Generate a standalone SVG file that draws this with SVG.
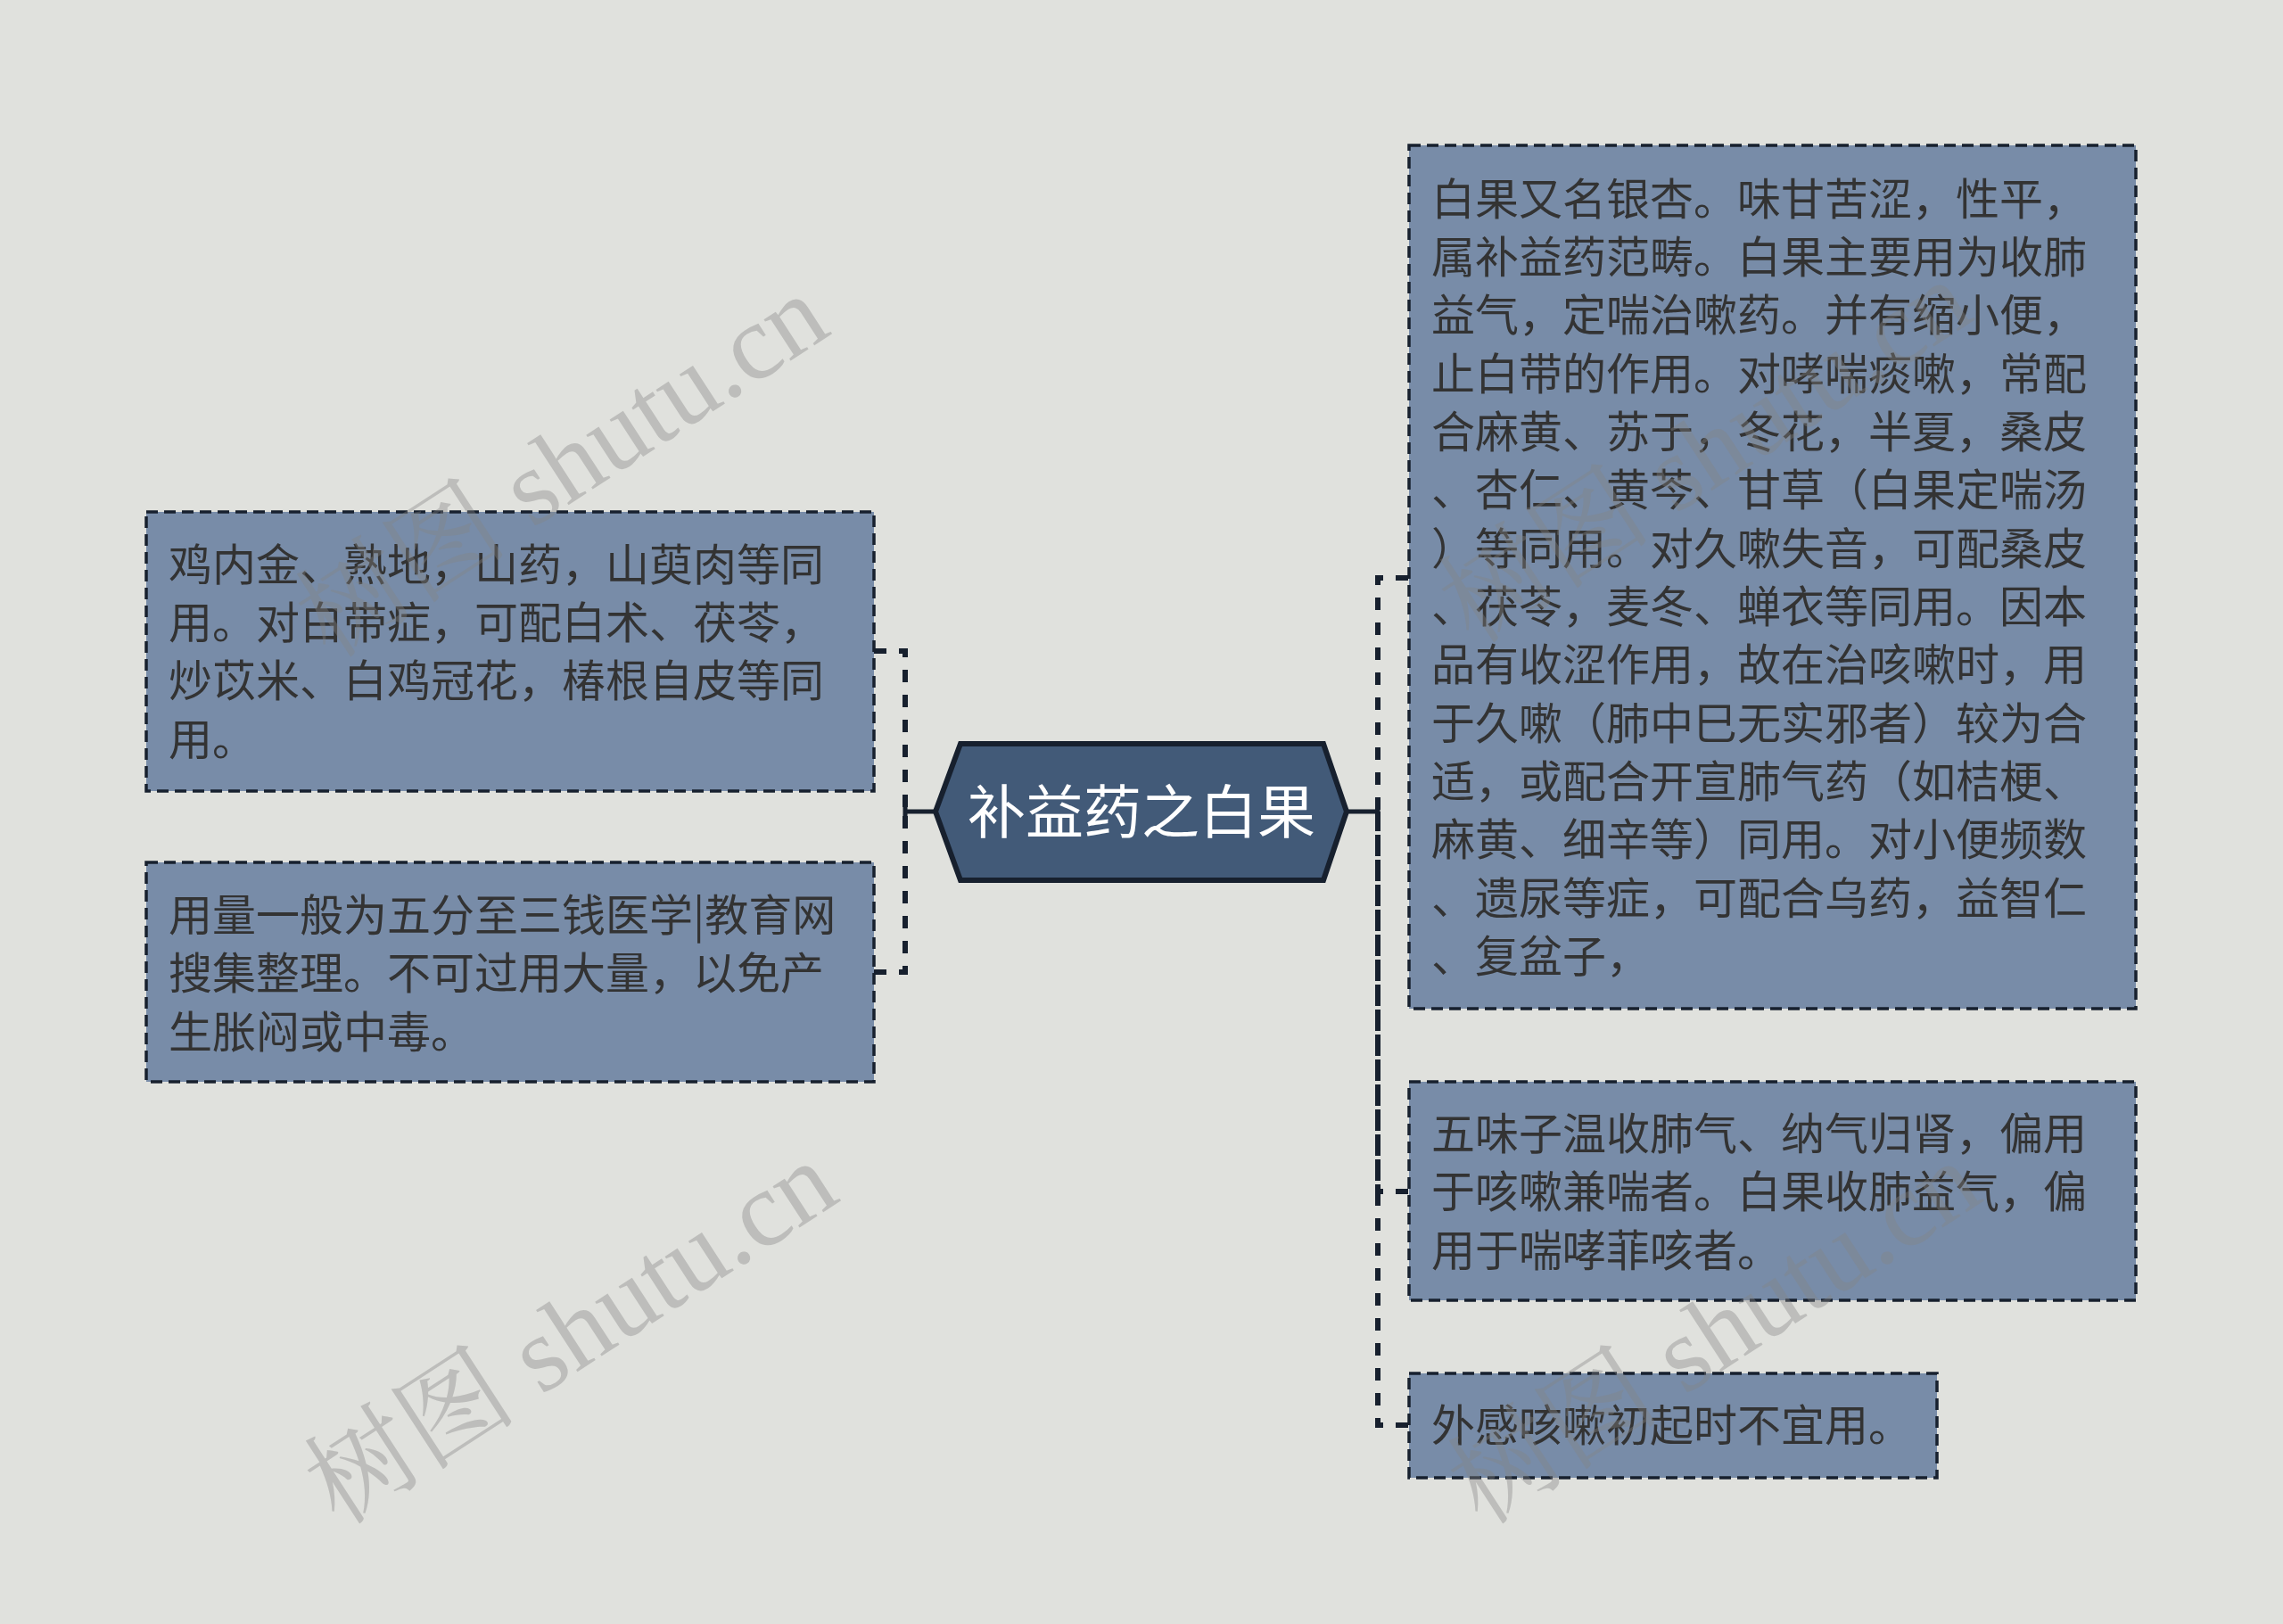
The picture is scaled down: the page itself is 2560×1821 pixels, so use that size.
<svg xmlns="http://www.w3.org/2000/svg" width="2560" height="1821" viewBox="0 0 2560 1821">
<style>
.bg{fill:#e0e1dd}
.box{fill:#788ca8;stroke:#17202e;stroke-width:3.5;stroke-dasharray:13 7}
.t{font-family:"Noto Sans CJK SC","Noto Sans",sans-serif;font-size:49px;fill:#333333}
.ct{font-family:"Noto Sans CJK SC","Noto Sans",sans-serif;font-size:65px;fill:#ffffff}
.hex{fill:#425a78;stroke:#17202e;stroke-width:6}
.solid{fill:none;stroke:#17202e;stroke-width:5}
.dash{fill:none;stroke:#17202e;stroke-width:6;stroke-dasharray:14 14}
.wm{font-family:"Liberation Serif","Noto Serif CJK SC","Noto Sans CJK SC",serif;font-size:120px;fill:#858585;opacity:0.38}
</style>
<rect class="bg" x="0" y="0" width="2560" height="1821"/>
<g id="connectors">
<path class="solid" d="M1049 910 L1015 910 M1015 897 L1015 923"/>
<path class="dash" d="M980 730 L1015 730 L1015 910"/>
<path class="dash" d="M980 1090 L1015 1090 L1015 910"/>
<path class="solid" d="M1510 910 L1545 910 M1545 897 L1545 923"/>
<path class="dash" d="M1579 648 L1545 648 L1545 910"/>
<path class="dash" d="M1579 1336 L1545 1336 L1545 910"/>
<path class="dash" d="M1579 1598 L1545 1598 L1545 910"/>
</g>
<g id="center">
<polygon class="hex" points="1049,910 1077,834 1484,834 1510,910 1484,987 1077,987"/>
<text class="ct" x="1280" y="934" text-anchor="middle">补益药之白果</text>
</g>
<g id="left1">
<rect class="box" x="164" y="574" width="816" height="313"/>
<text class="t" x="189"><tspan x="189" y="651">鸡内金、熟地，山药，山萸肉等同</tspan><tspan x="189" y="716">用。对白带症，可配白术、茯苓，</tspan><tspan x="189" y="781">炒苡米、白鸡冠花，椿根自皮等同</tspan><tspan x="189" y="847">用。</tspan></text>
</g>
<g id="left2">
<rect class="box" x="164" y="967" width="816" height="246"/>
<text class="t" x="189"><tspan x="189" y="1044">用量一般为五分至三钱医学|教育网</tspan><tspan x="189" y="1109">搜集整理。不可过用大量，以免产</tspan><tspan x="189" y="1175">生胀闷或中毒。</tspan></text>
</g>
<g id="right1">
<rect class="box" x="1580" y="163" width="815" height="968"/>
<text class="t" x="1605"><tspan x="1605" y="241">白果又名银杏。味甘苦涩，性平，</tspan><tspan x="1605" y="306">属补益药范畴。白果主要用为收肺</tspan><tspan x="1605" y="371">益气，定喘治嗽药。并有缩小便，</tspan><tspan x="1605" y="437">止白带的作用。对哮喘痰嗽，常配</tspan><tspan x="1605" y="502">合麻黄、苏于，冬花，半夏，桑皮</tspan><tspan x="1605" y="567">、杏仁、黄芩、甘草（白果定喘汤</tspan><tspan x="1605" y="633">）等同用。对久嗽失音，可配桑皮</tspan><tspan x="1605" y="698">、茯苓，麦冬、蝉衣等同用。因本</tspan><tspan x="1605" y="763">品有收涩作用，故在治咳嗽时，用</tspan><tspan x="1605" y="829">于久嗽（肺中巳无实邪者）较为合</tspan><tspan x="1605" y="894">适，或配合开宣肺气药（如桔梗、</tspan><tspan x="1605" y="959">麻黄、细辛等）同用。对小便频数</tspan><tspan x="1605" y="1025">、遗尿等症，可配合乌药，益智仁</tspan><tspan x="1605" y="1090">、复盆子，</tspan></text>
</g>
<g id="right2">
<rect class="box" x="1580" y="1213" width="815" height="245"/>
<text class="t" x="1605"><tspan x="1605" y="1289">五味子温收肺气、纳气归肾，偏用</tspan><tspan x="1605" y="1354">于咳嗽兼喘者。白果收肺益气，偏</tspan><tspan x="1605" y="1420">用于喘哮菲咳者。</tspan></text>
</g>
<g id="right3">
<rect class="box" x="1580" y="1540" width="592" height="117"/>
<text class="t" x="1605" y="1616">外感咳嗽初起时不宜用。</text>
</g>
<g id="watermarks">
<text class="wm" transform="translate(370 740) rotate(-33)">树图 shutu.cn</text>
<text class="wm" transform="translate(380 1712) rotate(-33)">树图 shutu.cn</text>
<text class="wm" transform="translate(1652 724) rotate(-33)">树图 shutu.cn</text>
<text class="wm" transform="translate(1662 1712) rotate(-33)">树图 shutu.cn</text>
</g>
</svg>
